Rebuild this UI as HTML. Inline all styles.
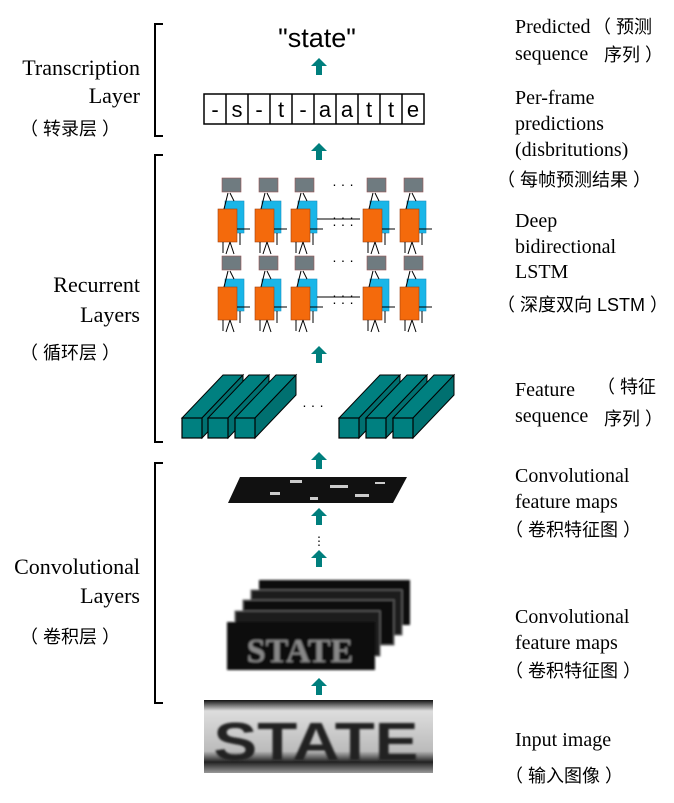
<!DOCTYPE html>
<html><head><meta charset="utf-8"><style>
body{margin:0;background:#fff;}
svg{display:block;}
.s{font-family:"Liberation Serif","Noto Sans CJK SC",serif;font-size:20px;fill:#000;}
.l{font-family:"Liberation Serif","Noto Sans CJK SC",serif;font-size:22px;fill:#000;}
.c{font-family:"Liberation Sans","Noto Sans CJK SC",sans-serif;font-size:18px;fill:#000;}
</style></head><body>
<svg width="674" height="803" viewBox="0 0 674 803" xmlns="http://www.w3.org/2000/svg">
<defs>
<g id="arr"><polygon points="-8,8 0,0 8,8 3,8 3,17 -3,17 -3,8" fill="#007f7d"/></g>
<g id="cell">
 <rect x="4" y="-31" width="19" height="14" fill="#6f7b80" stroke="#955" stroke-width="0.6"/>
 <rect x="7" y="-8" width="19" height="32" fill="#19b6e8" stroke="#1a8fc0" stroke-width="0.6"/>
 <rect x="0" y="0" width="19" height="33" fill="#f46a0c" stroke="#a04010" stroke-width="0.6"/>
 <line x1="6" y1="0" x2="10" y2="-16" stroke="#000" stroke-width="1"/>
 <line x1="16" y1="-8" x2="12" y2="-16" stroke="#000" stroke-width="1"/>
 <line x1="19" y1="20" x2="32" y2="20" stroke="#000" stroke-width="1"/>
 <line x1="12" y1="33" x2="8" y2="45" stroke="#000" stroke-width="1"/>
 <line x1="12" y1="33" x2="16" y2="45" stroke="#000" stroke-width="1"/>
 <line x1="5" y1="33" x2="5" y2="44" stroke="#000" stroke-width="1"/>
 <line x1="22" y1="24" x2="22" y2="36" stroke="#000" stroke-width="1"/>
</g>
<g id="prism">
 <polygon points="0,0 20,0 61,-43 41,-43" fill="#008080" stroke="#000" stroke-width="1"/>
 <polygon points="20,0 20,20 61,-23 61,-43" fill="#007070" stroke="#000" stroke-width="1"/>
 <rect x="0" y="0" width="20" height="20" fill="#008080" stroke="#000" stroke-width="1.2"/>
</g>
<linearGradient id="ig" x1="0" y1="0" x2="0" y2="1">
 <stop offset="0" stop-color="#111"/><stop offset="0.15" stop-color="#ddd"/><stop offset="0.7" stop-color="#bbb"/><stop offset="0.85" stop-color="#222"/><stop offset="1" stop-color="#999"/>
</linearGradient>
<filter id="bl"><feGaussianBlur stdDeviation="1"/></filter>
</defs>

<g fill="none" stroke="#000" stroke-width="2">
<polyline points="163,24 155,24 155,136 163,136"/>
<polyline points="163,155 155,155 155,442 163,442"/>
<polyline points="163,463 155,463 155,703 163,703"/>
</g>

<text class="l" x="140" y="75" text-anchor="end">Transcription</text>
<text class="l" x="140" y="103" text-anchor="end">Layer</text>
<text class="c" x="20" y="135">（ 转录层 ）</text>
<text class="l" x="140" y="292" text-anchor="end">Recurrent</text>
<text class="l" x="140" y="322" text-anchor="end">Layers</text>
<text class="c" x="20" y="359">（ 循环层 ）</text>
<text class="l" x="140" y="574" text-anchor="end">Convolutional</text>
<text class="l" x="140" y="603" text-anchor="end">Layers</text>
<text class="c" x="20" y="643">（ 卷积层 ）</text>

<text class="s" x="515" y="33">Predicted</text><text class="c" x="593" y="33">（ 预测</text>
<text class="s" x="515" y="60">sequence</text><text class="c" x="604" y="61">序列 ）</text>
<text class="s" x="515" y="104">Per-frame</text>
<text class="s" x="515" y="130">predictions</text>
<text class="s" x="515" y="156">(disbritutions)</text>
<text class="c" x="497" y="186">（ 每帧预测结果 ）</text>
<text class="s" x="515" y="227">Deep</text>
<text class="s" x="515" y="253">bidirectional</text>
<text class="s" x="515" y="278">LSTM</text>
<text class="c" x="497" y="311">（ 深度双向 LSTM ）</text>
<text class="s" x="515" y="396">Feature</text><text class="c" x="597" y="393">（ 特征</text>
<text class="s" x="515" y="422">sequence</text><text class="c" x="604" y="425">序列 ）</text>
<text class="s" x="515" y="482">Convolutional</text>
<text class="s" x="515" y="508">feature maps</text>
<text class="c" x="505" y="536">（ 卷积特征图 ）</text>
<text class="s" x="515" y="623">Convolutional</text>
<text class="s" x="515" y="649">feature maps</text>
<text class="c" x="505" y="677">（ 卷积特征图 ）</text>
<text class="s" x="515" y="746">Input image</text>
<text class="c" x="505" y="782">（ 输入图像 ）</text>

<text x="317" y="47" text-anchor="middle" font-family="Liberation Sans, sans-serif" font-size="27">"state"</text>
<use href="#arr" x="319" y="58"/>
<rect x="204" y="94" width="220" height="30" fill="#fff" stroke="#000" stroke-width="1.5"/>
<g stroke="#000" stroke-width="1.5">
<line x1="226" y1="94" x2="226" y2="124"/><line x1="248" y1="94" x2="248" y2="124"/><line x1="270" y1="94" x2="270" y2="124"/><line x1="292" y1="94" x2="292" y2="124"/><line x1="314" y1="94" x2="314" y2="124"/><line x1="336" y1="94" x2="336" y2="124"/><line x1="358" y1="94" x2="358" y2="124"/><line x1="380" y1="94" x2="380" y2="124"/><line x1="402" y1="94" x2="402" y2="124"/>
</g>
<g font-family="Liberation Sans, sans-serif" font-size="22" text-anchor="middle">
<text x="215" y="117">-</text><text x="237" y="117">s</text><text x="259" y="117">-</text><text x="281" y="117">t</text><text x="303" y="117">-</text><text x="325" y="117">a</text><text x="347" y="117">a</text><text x="369" y="117">t</text><text x="391" y="117">t</text><text x="413" y="117">e</text>
</g>
<use href="#arr" x="319" y="143"/>

<use href="#cell" x="218" y="209"/><use href="#cell" x="255" y="209"/><use href="#cell" x="291" y="209"/><use href="#cell" x="363" y="209"/><use href="#cell" x="400" y="209"/>
<use href="#cell" x="218" y="287"/><use href="#cell" x="255" y="287"/><use href="#cell" x="291" y="287"/><use href="#cell" x="363" y="287"/><use href="#cell" x="400" y="287"/>
<g font-family="Liberation Sans, sans-serif" font-size="14" text-anchor="middle">
<text x="343" y="189">· · ·</text><text x="343" y="265">· · ·</text>
<text x="343" y="222">· · ·</text><text x="343" y="229">· · ·</text>
<text x="343" y="300">· · ·</text><text x="343" y="307">· · ·</text>
</g>
<g stroke="#000" stroke-width="1">
<line x1="317" y1="219" x2="360" y2="219"/><line x1="317" y1="297" x2="360" y2="297"/>
</g>

<use href="#arr" x="319" y="346"/>

<use href="#prism" x="182" y="418"/><use href="#prism" x="208" y="418"/><use href="#prism" x="235" y="418"/>
<use href="#prism" x="339" y="418"/><use href="#prism" x="366" y="418"/><use href="#prism" x="393" y="418"/>
<text x="313" y="410" text-anchor="middle" font-family="Liberation Sans, sans-serif" font-size="14">· · ·</text>

<use href="#arr" x="319" y="452"/>
<polygon points="240,477 407,477 393,503 228,503" fill="#111"/>
<g fill="#ccc"><rect x="290" y="480" width="12" height="3"/><rect x="330" y="485" width="18" height="3"/><rect x="270" y="492" width="10" height="3"/><rect x="355" y="494" width="14" height="3"/><rect x="310" y="497" width="8" height="3"/><rect x="375" y="482" width="10" height="2"/></g>
<use href="#arr" x="319" y="508"/>
<text x="319" y="545" text-anchor="middle" font-family="Liberation Sans, sans-serif" font-size="12">⋮</text>
<use href="#arr" x="319" y="550"/>

<g filter="url(#bl)">
<rect x="259" y="580" width="151" height="45" fill="#111"/>
<rect x="251" y="590" width="151" height="45" fill="#1a1a1a" stroke="#666" stroke-width="1"/>
<rect x="243" y="600" width="151" height="45" fill="#111" stroke="#666" stroke-width="1"/>
<rect x="235" y="611" width="145" height="45" fill="#1a1a1a" stroke="#666" stroke-width="1"/>
<rect x="227" y="622" width="148" height="48" fill="#111"/>
<text x="300" y="662" text-anchor="middle" font-family="Liberation Serif, serif" font-weight="bold" font-size="34" fill="#888">STATE</text>
</g>
<use href="#arr" x="319" y="678"/>

<rect x="204" y="700" width="229" height="73" fill="url(#ig)"/>
<text x="316" y="760" text-anchor="middle" font-family="Liberation Sans, sans-serif" font-weight="bold" font-size="54" fill="#222" filter="url(#bl)" textLength="205" lengthAdjust="spacingAndGlyphs">STATE</text>
</svg>
</body></html>
